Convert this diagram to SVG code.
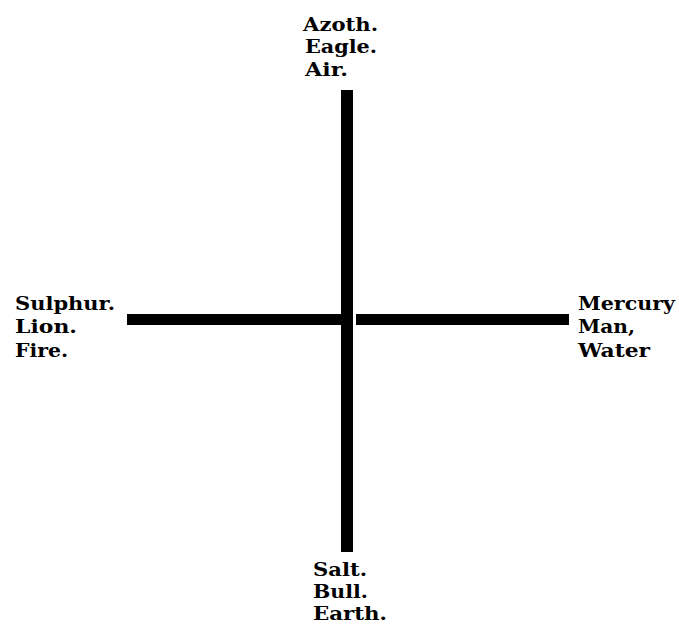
<svg xmlns="http://www.w3.org/2000/svg" width="679" height="626" viewBox="0 0 679 626">
<style>
.lbl{font-family:"DejaVu Serif","Liberation Serif",serif;font-weight:bold;font-size:18px;fill:#000}
.bar{stroke:#000;stroke-linecap:butt}
</style>
<rect width="679" height="626" fill="#fff"/>
<g id="connectors">
<line class="bar" x1="347" y1="90" x2="347" y2="552" stroke-width="12"/>
<line class="bar" x1="127" y1="319.5" x2="347" y2="319.5" stroke-width="11"/>
<line class="bar" x1="356" y1="319.5" x2="569" y2="319.5" stroke-width="11"/>
</g>
<g id="top">
<text class="lbl" x="303" y="31" textLength="75" lengthAdjust="spacingAndGlyphs">Azoth.</text>
<text class="lbl" x="305" y="53" textLength="72" lengthAdjust="spacingAndGlyphs">Eagle.</text>
<text class="lbl" x="305" y="76" textLength="43" lengthAdjust="spacingAndGlyphs">Air.</text>
</g>
<g id="left">
<text class="lbl" x="15" y="310" textLength="100" lengthAdjust="spacingAndGlyphs">Sulphur.</text>
<text class="lbl" x="15" y="333" textLength="62" lengthAdjust="spacingAndGlyphs">Lion.</text>
<text class="lbl" x="15" y="357" textLength="53" lengthAdjust="spacingAndGlyphs">Fire.</text>
</g>
<g id="right">
<text class="lbl" x="578" y="310" textLength="97" lengthAdjust="spacingAndGlyphs">Mercury</text>
<text class="lbl" x="578" y="333" textLength="57" lengthAdjust="spacingAndGlyphs">Man,</text>
<text class="lbl" x="578" y="357" textLength="72" lengthAdjust="spacingAndGlyphs">Water</text>
</g>
<g id="bottom">
<text class="lbl" x="313" y="576" textLength="54" lengthAdjust="spacingAndGlyphs">Salt.</text>
<text class="lbl" x="313" y="598" textLength="55" lengthAdjust="spacingAndGlyphs">Bull.</text>
<text class="lbl" x="313" y="620" textLength="74" lengthAdjust="spacingAndGlyphs">Earth.</text>
</g>
</svg>
